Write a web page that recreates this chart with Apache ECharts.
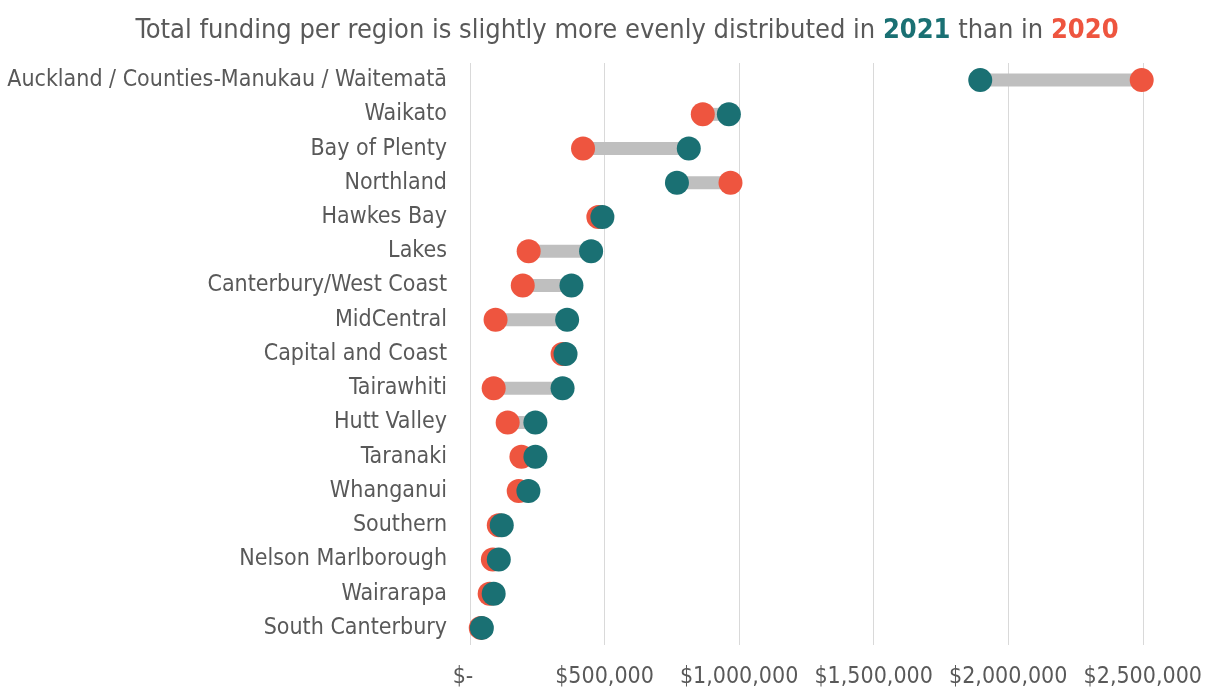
<!DOCTYPE html>
<html><head><meta charset="utf-8">
<script src="https://cdn.jsdelivr.net/npm/echarts@6/dist/echarts.min.js"></script>
<style>html,body{margin:0;padding:0;background:#fff}#c{width:1205px;height:690px}</style>
</head><body><div id="c"></div>
<script>
const regions = ["Auckland / Counties-Manukau / Waitematā","Waikato","Bay of Plenty","Northland","Hawkes Bay","Lakes","Canterbury/West Coast","MidCentral","Capital and Coast","Tairawhiti","Hutt Valley","Taranaki","Whanganui","Southern","Nelson Marlborough","Wairarapa","South Canterbury"];
const funding2020 = [2496000,865000,420000,968000,477000,218000,196000,95000,344000,88000,140000,191000,181000,107000,85000,73000,40000];
const funding2021 = [1896000,962000,813000,769000,492000,450000,377000,361000,355000,344000,243000,243000,217000,118000,107000,88000,44000];
const xTicks = [0,500000,1000000,1500000,2000000,2500000];

const FONT = '"Liberation Sans Narrow","DejaVu Sans Condensed","Roboto",sans-serif';
const lo = funding2020.map((v,i)=>Math.min(v,funding2021[i]));
const span = funding2020.map((v,i)=>Math.abs(v-funding2021[i]));

const chart = echarts.init(document.getElementById('c'));
chart.setOption({
  animation:false,
  title:{
    text:'{a|Total funding per region is slightly more evenly distributed in }{t|2021}{a| than in }{r|2020}',
    left:622, top:12, textAlign:'center',
    textStyle:{fontWeight:'normal',rich:{
      a:{fontFamily:FONT,fontSize:27,color:'#595959',fontWeight:'normal'},
      t:{fontFamily:FONT,fontSize:27,color:'#1A7073',fontWeight:'bold'},
      r:{fontFamily:FONT,fontSize:27,color:'#EE553F',fontWeight:'bold'}
    }}
  },
  grid:{left:470,right:60,top:63,bottom:45,containLabel:false},
  xAxis:{type:'value',min:xTicks[0],max:xTicks[xTicks.length-1],interval:xTicks[1]-xTicks[0],
    axisLine:{show:false},axisTick:{show:false},
    splitLine:{lineStyle:{color:'#D9D9D9',width:1}},
    axisLabel:{fontFamily:FONT,fontSize:23,color:'#595959',margin:21,
      formatter:v=> v===0?'{z|$-}':'$'+v.toLocaleString('en-US'),
      rich:{z:{fontFamily:FONT,fontSize:23,color:'#595959',padding:[0,14,0,0]}}}
  },
  yAxis:{type:'category',data:regions,inverse:true,
    axisLine:{show:false},axisTick:{show:false},
    axisLabel:{fontFamily:FONT,fontSize:23,color:'#595959',margin:23,padding:[4,0,0,0]}
  },
  series:[
    {type:'bar',stack:'s',data:lo,barWidth:13,itemStyle:{color:'transparent'},silent:true},
    {type:'bar',stack:'s',data:span,barWidth:13,itemStyle:{color:'#BFBFBF'},silent:true},
    {type:'scatter',name:'2020',data:funding2020,symbolSize:24,itemStyle:{color:'#EE553F',opacity:1},z:3},
    {type:'scatter',name:'2021',data:funding2021,symbolSize:24,itemStyle:{color:'#1A7073',opacity:1},z:4}
  ]
});
</script></body></html>
